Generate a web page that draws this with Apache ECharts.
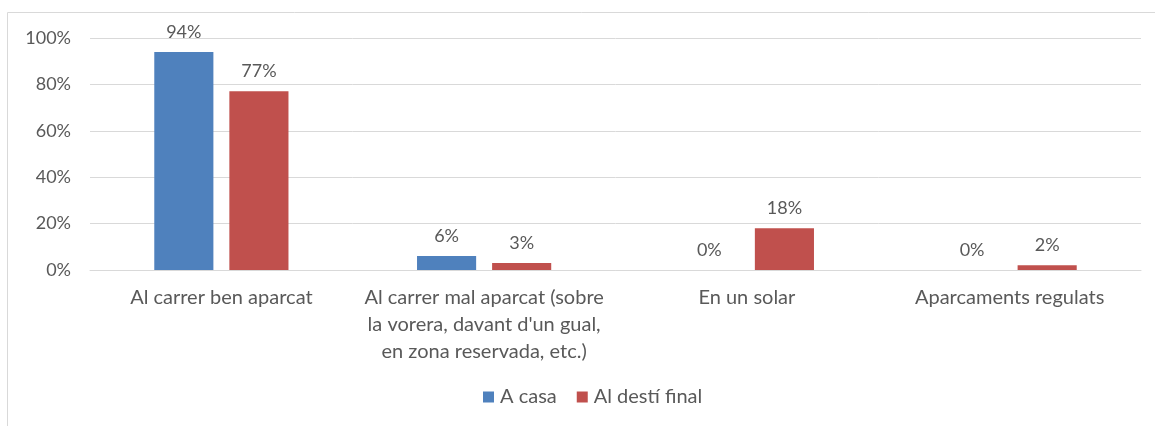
<!DOCTYPE html>
<html><head><meta charset="utf-8">
<script src="https://cdn.jsdelivr.net/npm/echarts@6/dist/echarts.min.js"></script>
<style>html,body{margin:0;padding:0;background:#fff}#c{width:1155px;height:426px}</style>
</head><body><div id="c"></div>
<script>
const categories = ["Al carrer ben aparcat", "Al carrer mal aparcat (sobre\nla vorera, davant d'un gual,\nen zona reservada, etc.)", "En un solar", "Aparcaments regulats"];
const seriesNames = ["A casa", "Al destí final"];
const aCasa = [94, 6, 0, 0];
const alDesti = [77, 3, 18, 2];
const yTicks = [0, 20, 40, 60, 80, 100];

const FONT = 'Lato';
const GREY = '#595959';
const chart = echarts.init(document.getElementById('c'));
const lbl = {show: true, position: 'top', distance: 11, color: GREY, fontFamily: FONT, fontSize: 18, formatter: p => p.value + '%'};
chart.setOption({
  animation: false,
  graphic: [{type: 'rect', shape: {x: 7.5, y: 12.5, width: 1200, height: 440}, style: {fill: 'none', stroke: '#D9D9D9', lineWidth: 1}, silent: true}],
  grid: {left: 90, right: 14, top: 38, bottom: 156, containLabel: false},
  legend: {bottom: 14, left: 478, itemWidth: 11, itemHeight: 11, itemGap: 20, icon: 'rect',
    textStyle: {color: GREY, fontFamily: FONT, fontSize: 20, padding: [0,0,0,1]}, data: seriesNames},
  xAxis: {type: 'category', data: categories,
    axisLine: {lineStyle: {color: '#D9D9D9', width: 1}}, axisTick: {show: false},
    axisLabel: {color: GREY, fontFamily: FONT, fontSize: 20, lineHeight: 27, margin: 14, interval: 0}},
  yAxis: {type: 'value', min: yTicks[0], max: yTicks[yTicks.length-1], interval: 20,
    axisLine: {show: false}, axisTick: {show: false},
    splitLine: {lineStyle: {color: '#D9D9D9', width: 1}},
    axisLabel: {color: GREY, fontFamily: FONT, fontSize: 18, margin: 19, formatter: v => v + '%'}},
  series: [
    {name: seriesNames[0], type: 'bar', data: aCasa, barWidth: '22.5%', barGap: '27%', itemStyle: {color: '#4F81BD'}, label: lbl},
    {name: seriesNames[1], type: 'bar', data: alDesti, barWidth: '22.5%', barGap: '27%', itemStyle: {color: '#C0504D'}, label: lbl}
  ]
});
</script></body></html>
